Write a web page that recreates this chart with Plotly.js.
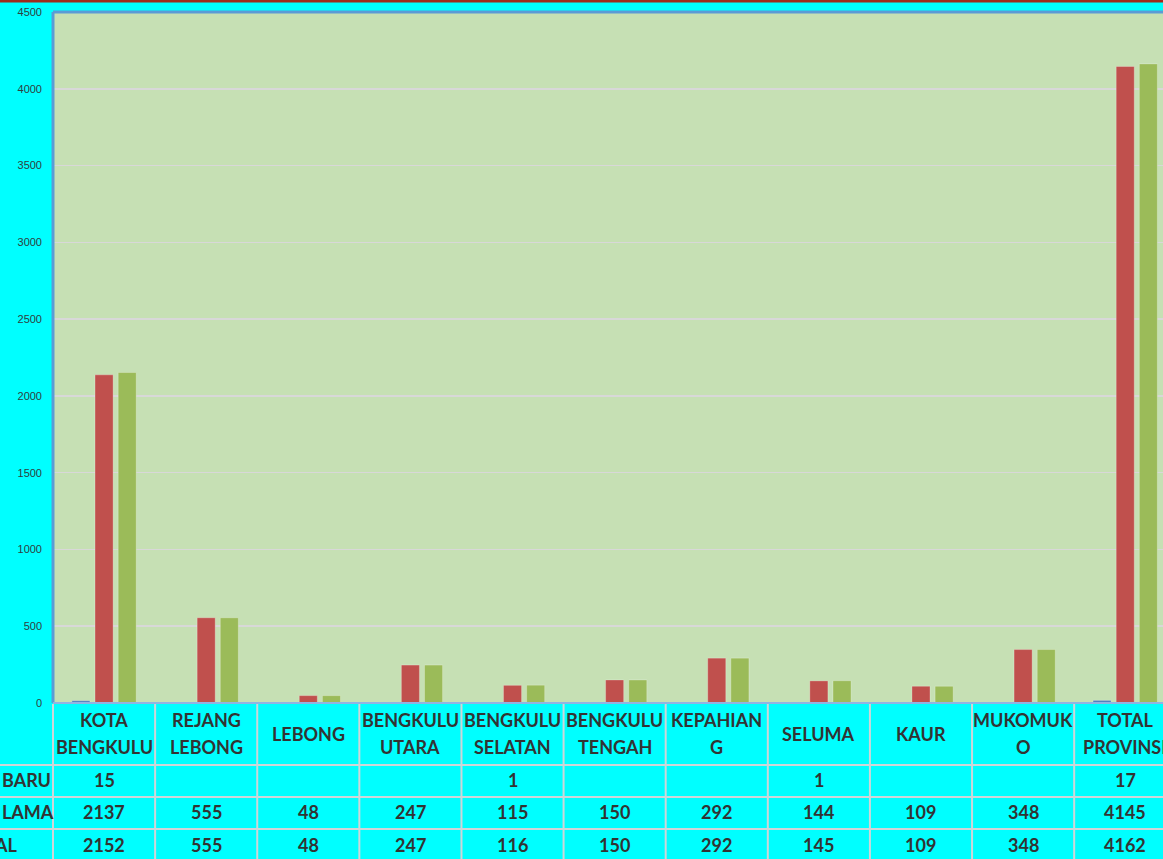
<!DOCTYPE html>
<html>
<head>
<meta charset="utf-8">
<script src="https://cdn.plot.ly/plotly-3.0.1.min.js"></script>
<style>
html,body{margin:0;padding:0;background:#00FFFF;overflow:hidden;}
#chart{width:1163px;height:859px;}
</style>
</head>
<body>
<div id="chart"></div>
<script>
// ---- data ----
var categories = ['KOTA BENGKULU','REJANG LEBONG','LEBONG','BENGKULU UTARA','BENGKULU SELATAN','BENGKULU TENGAH','KEPAHIANG','SELUMA','KAUR','MUKOMUKO','TOTAL PROVINSI'];
var headerLines = [['KOTA','BENGKULU'],['REJANG','LEBONG'],['LEBONG'],['BENGKULU','UTARA'],['BENGKULU','SELATAN'],['BENGKULU','TENGAH'],['KEPAHIAN','G'],['SELUMA'],['KAUR'],['MUKOMUK','O'],['TOTAL','PROVINSI']];
var baru  = [15, null, null, null, 1, null, null, 1, null, null, 17];
var lama  = [2137, 555, 48, 247, 115, 150, 292, 144, 109, 348, 4145];
var total = [2152, 555, 48, 247, 116, 150, 292, 145, 109, 348, 4162];
var seriesNames = ['BARU','LAMA','TOTAL'];
var yTicks = [0,500,1000,1500,2000,2500,3000,3500,4000,4500];

// ---- layout helpers (pixels -> paper) ----
var W = 1163, H = 859, ML = 53, MT = 12, MB = 156;
var PW = W - ML, PH = H - MT - MB;
var xr = [-0.5, 10.37];
function xp(v){ return (v - xr[0])/(xr[1]-xr[0]); }
function xpx(px){ return (px - ML)/PW; }
function yp(py){ return (H - MB - py)/PH; }

var txtFont = {family:'Lato, "Open Sans", sans-serif', size:18, color:'#333333', weight:700};
var gridCol = '#D8D8D8';
var lineCol = '#CFD6D8';

var colors = ['#4F81BD','#C0504D','#9BBB59'];
var vals = [baru, lama, total];
var traces = vals.map(function(v,k){
  return {type:'bar', x:categories, y:v.map(function(a){return a===null?0:a;}), name:seriesNames[k],
    marker:{color:colors[k], line:{color:'rgba(255,255,255,0.25)', width:1}}, hoverinfo:'x+y+name'};
});

var annotations = [];
var shapes = [];

// table rows: pixel centers
var rowCenters = [780, 812, 845];
// row labels: BARU / LAMA fully visible from the left edge, TOTAL clipped at the page edge as in the reference
var rowLabelPos = [{x:0, anchor:'left'}, {x:0, anchor:'left'}, {x:20, anchor:'right'}];
var rows = [baru, lama, total];
rows.forEach(function(r, ri){
  annotations.push({xref:'paper', yref:'paper', x:xpx(rowLabelPos[ri].x), y:yp(rowCenters[ri]),
    xanchor:rowLabelPos[ri].anchor, yanchor:'middle', text:seriesNames[ri], showarrow:false, font:txtFont});
  r.forEach(function(v, ci){
    if (v === null) return;
    annotations.push({xref:'paper', yref:'paper', x:xp(ci), y:yp(rowCenters[ri]),
      xanchor:'center', yanchor:'middle', text:String(v), showarrow:false, font:txtFont});
  });
});
// header
headerLines.forEach(function(lines, ci){
  var ys = lines.length === 2 ? [720, 747] : [734];
  lines.forEach(function(t, li){
    annotations.push({xref:'paper', yref:'paper', x:xp(ci), y:yp(ys[li]),
      xanchor:'center', yanchor:'middle', text:t, showarrow:false, font:txtFont});
  });
});

// table lines
[765, 797, 829].forEach(function(py){
  shapes.push({type:'line', xref:'paper', yref:'paper', x0:xpx(0), x1:xpx(W+20), y0:yp(py), y1:yp(py), line:{color:lineCol, width:2}});
});
for (var i = 0; i <= 11; i++){
  shapes.push({type:'line', xref:'paper', yref:'paper', x0:xp(i-0.5), x1:xp(i-0.5), y0:yp(704), y1:yp(H+5), line:{color:lineCol, width:2}});
}
// plot border (left/top blue, bottom light blue)
shapes.push({type:'line', xref:'paper', yref:'paper', x0:0, x1:0, y0:0, y1:1, line:{color:'#5B9BD5', width:3}});
shapes.push({type:'line', xref:'paper', yref:'paper', x0:0, x1:1.02, y0:1, y1:1, line:{color:'#5B9BD5', width:3}});
shapes.push({type:'line', xref:'paper', yref:'paper', x0:0, x1:1.02, y0:0, y1:0, line:{color:'#8FB4E3', width:2}});
// dark red strip at very top
shapes.push({type:'rect', xref:'paper', yref:'paper', x0:xpx(-5), x1:xpx(W+5), y0:yp(2.5), y1:yp(-3), fillcolor:'#9E2B1C', line:{width:0}});

var layout = {
  width:W, height:H,
  margin:{l:ML, r:0, t:MT, b:MB, pad:0},
  paper_bgcolor:'#00FFFF',
  plot_bgcolor:'#C6E0B4',
  barmode:'group', bargap:0.32, bargroupgap:0.22,
  showlegend:false,
  xaxis:{type:'category', range:xr, showticklabels:false, showgrid:false, zeroline:false, showline:false, ticks:'', fixedrange:true},
  yaxis:{range:[0,4500], tickvals:yTicks, ticktext:yTicks.map(String), showgrid:true, gridcolor:gridCol, gridwidth:1.5,
    zeroline:false, showline:false, ticks:'', ticklabelstandoff:10,
    tickfont:{family:'"Liberation Sans", Arial, sans-serif', size:11, color:'#2f4040'}, fixedrange:true},
  annotations:annotations,
  shapes:shapes
};

Plotly.newPlot('chart', traces, layout, {displayModeBar:false, staticPlot:true});
</script>
</body>
</html>
